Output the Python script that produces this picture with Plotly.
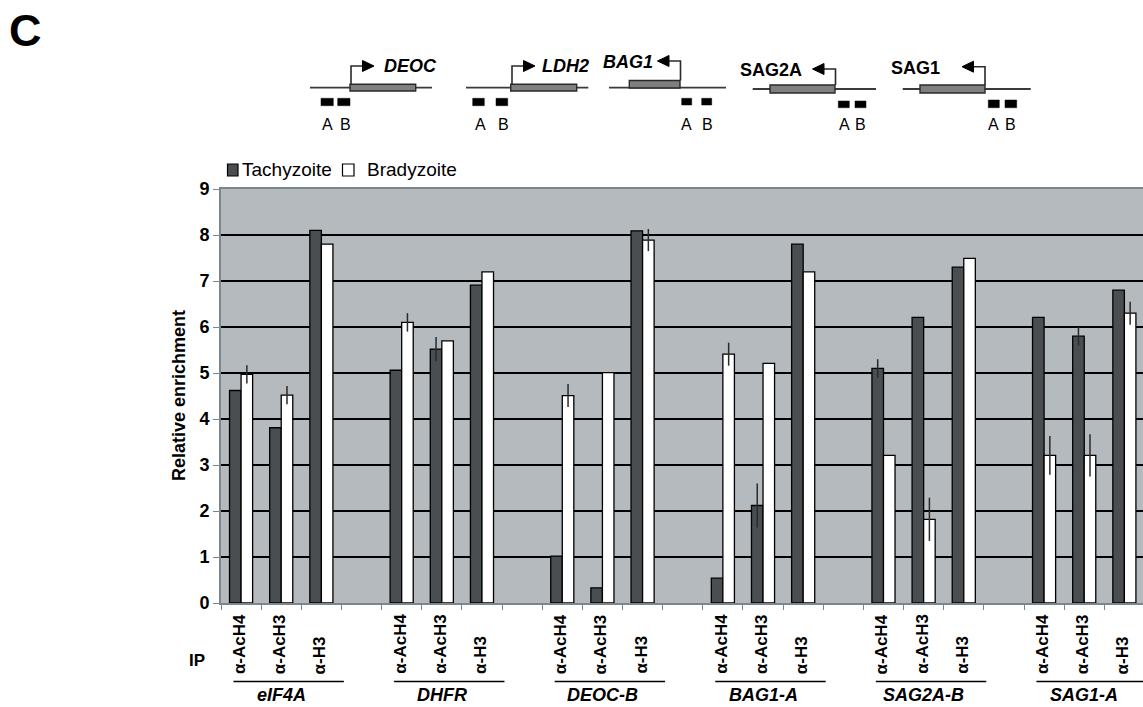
import plotly.graph_objects as go

# ---------------- data ----------------
groups = ["eIF4A", "DHFR", "DEOC-B", "BAG1-A", "SAG2A-B", "SAG1-A"]
antibodies = ["α-AcH4", "α-AcH3", "α-H3"]
tachyzoite = [4.62, 3.81, 8.10, 5.06, 5.52, 6.91, 1.02, 0.33, 8.09,
              0.54, 2.12, 7.80, 5.10, 6.21, 7.30, 6.21, 5.80, 6.80]
bradyzoite = [4.97, 4.52, 7.80, 6.10, 5.70, 7.20, 4.51, 5.01, 7.89,
              5.41, 5.21, 7.20, 3.21, 1.82, 7.49, 3.21, 3.21, 6.30]
tachy_err = [0, 0, 0, 0, 0.26, 0, 0, 0, 0,
             0, 0.48, 0, 0.20, 0, 0, 0, 0.20, 0]
brady_err = [0.20, 0.20, 0, 0.20, 0, 0, 0.25, 0, 0.24,
             0.25, 0, 0, 0, 0.47, 0, 0.42, 0.46, 0.25]
y_ticks = [0, 1, 2, 3, 4, 5, 6, 7, 8, 9]
series_names = ["Tachyzoite", "Bradyzoite"]

# ---------------- geometry helpers ----------------
# The page body margin is removed (post_script), so figure pixels = window pixels.
W, H = 1143, 707
def px(x):
    return x / W
def py(y):
    return 1 - y / H

slots = [g * 4 + a for g in range(len(groups)) for a in range(len(antibodies))]

DARK = "#4a4e51"
PLOTBG = "#b4babe"
AXGREY = "#7b878f"
FONT = "Arial, Liberation Sans, sans-serif"

fig = go.Figure()
fig.add_trace(go.Bar(
    x=slots, y=tachyzoite, name=series_names[0],
    marker=dict(color=DARK, line=dict(color="black", width=1.3)),
    error_y=dict(type="data", array=tachy_err, visible=True,
                 color="#2a2a2a", thickness=1.5, width=0),
))
fig.add_trace(go.Bar(
    x=slots, y=bradyzoite, name=series_names[1],
    marker=dict(color="white", line=dict(color="black", width=1.3)),
    error_y=dict(type="data", array=brady_err, visible=True,
                 color="#2a2a2a", thickness=1.5, width=0),
))

shapes = []
annotations = []

# ---- x tick labels (antibodies), bottom-aligned ----
for g, grp in enumerate(groups):
    for a, ab in enumerate(antibodies):
        annotations.append(dict(
            x=g * 4 + a, xref="x", y=py(676), yref="paper",
            text=ab, textangle=-90, xanchor="center", yanchor="bottom",
            xshift=-2, showarrow=False,
            font=dict(family=FONT, size=17, color="black", weight="bold"),
        ))
    # underline
    shapes.append(dict(type="line", xref="x", yref="paper",
                       x0=g * 4 - 0.19, x1=g * 4 + 2.56,
                       y0=py(681.5), y1=py(681.5),
                       line=dict(color="black", width=1.5)))
    annotations.append(dict(
        x=g * 4 + 1, xref="x", y=py(695), yref="paper",
        text=grp, xanchor="center", yanchor="middle", showarrow=False,
        font=dict(family=FONT, size=18, color="black", weight="bold",
                  style="italic"),
    ))

annotations.append(dict(x=px(197), y=py(660), xref="paper", yref="paper",
                        text="IP", showarrow=False, xanchor="center", yanchor="middle",
                        font=dict(family=FONT, size=17, color="black", weight="bold")))

# ---- y axis title ----
annotations.append(dict(x=px(179), y=py(396), xref="paper", yref="paper",
                        text="Relative enrichment", textangle=-90, showarrow=False,
                        xanchor="center", yanchor="middle",
                        font=dict(family=FONT, size=18, color="black", weight="bold")))

# ---- panel letter ----
annotations.append(dict(x=px(25), y=py(31), xref="paper", yref="paper",
                        text="C", showarrow=False, xanchor="center", yanchor="middle",
                        font=dict(family=FONT, size=45, color="black", weight="bold")))

# ---- legend (manual) ----
def rect(x0, y0, x1, y1, fill, lc="black", lw=1.2):
    return dict(type="rect", xref="paper", yref="paper",
                x0=px(x0), x1=px(x1), y0=py(y1), y1=py(y0),
                fillcolor=fill, line=dict(color=lc, width=lw))

shapes.append(rect(227.5, 164, 238, 176, DARK))
shapes.append(rect(342.5, 164, 354, 176, "white"))
annotations.append(dict(x=px(240), y=py(170), xref="paper", yref="paper",
                        text=series_names[0], showarrow=False, xanchor="left",
                        yanchor="middle", font=dict(family=FONT, size=19, color="black")))
annotations.append(dict(x=px(365), y=py(170), xref="paper", yref="paper",
                        text=series_names[1], showarrow=False, xanchor="left",
                        yanchor="middle", font=dict(family=FONT, size=19, color="black")))

# ---- gene diagrams ----
def hline(x0, x1, y, color="#3a3a3a", w=1.8):
    return dict(type="line", xref="paper", yref="paper",
                x0=px(x0), x1=px(x1), y0=py(y), y1=py(y),
                line=dict(color=color, width=w))

def path(points, fill=None, color="#2a2a2a", w=1.6, closed=False):
    d = "M " + " L ".join(f"{px(x):.5f},{py(y):.5f}" for x, y in points)
    if closed:
        d += " Z"
    s = dict(type="path", xref="paper", yref="paper", path=d,
             line=dict(color=color, width=w))
    if fill:
        s["fillcolor"] = fill
    return s

diagrams = [
    dict(name="DEOC", italic=True, line=(310, 432, 87.7), box=(350, 84.3, 415.7, 91),
         px_=351, ay=66, dir=1, tx=(382, "left", 66),
         A=(321, 333.3), B=(337.7, 350), aby=(98.3, 105.7), lab=(327.3, 345)),
    dict(name="LDH2", italic=True, line=(466, 588.3, 87.7), box=(510.7, 84.3, 576.7, 91),
         px_=512, ay=66, dir=1, tx=(540, "left", 66),
         A=(472.7, 484.3), B=(496, 507.7), aby=(98.3, 105.7), lab=(480, 503.5)),
    dict(name="BAG1", italic=True, line=(609, 726, 87.7), box=(629.3, 80.5, 680, 88),
         px_=680.5, ay=61, dir=-1, tx=(655, "right", 62),
         A=(681.7, 691.7), B=(701.7, 711.7), aby=(98.3, 105), lab=(686.7, 707)),
    dict(name="SAG2A", italic=False, line=(752.7, 876, 89), box=(770, 85, 835, 93),
         px_=835.5, ay=69, dir=-1, tx=(738, "left", 70),
         A=(838.3, 849.3), B=(855, 866), aby=(101, 107.7), lab=(844, 860.7)),
    dict(name="SAG1", italic=False, line=(902.7, 1030.7, 89), box=(920, 85, 985, 93),
         px_=985, ay=66.7, dir=-1, tx=(889, "left", 67.5),
         A=(988.3, 999.3), B=(1005, 1016.7), aby=(100, 107.7), lab=(993.3, 1011)),
]

for d in diagrams:
    lx0, lx1, ly = d["line"]
    shapes.append(hline(lx0, lx1, ly))
    bx0, by0, bx1, by1 = d["box"]
    shapes.append(rect(bx0, by0, bx1, by1, "#7d7f80", lc="#2a2a2a", lw=1.4))
    p = d["px_"]
    ay = d["ay"]
    seg = 11.5
    base = p + d["dir"] * seg
    tip = base + d["dir"] * 11.5
    shapes.append(path([(p, by0), (p, ay), (base, ay)], w=1.6))
    shapes.append(path([(base, ay - 5.5), (tip, ay), (base, ay + 5.5)],
                       fill="black", color="black", w=1, closed=True))
    tx, tanchor, tyy = d["tx"]
    annotations.append(dict(x=px(tx), y=py(tyy), xref="paper", yref="paper",
                            text=d["name"], showarrow=False, xanchor=tanchor, yanchor="middle",
                            font=dict(family=FONT, size=18, color="black", weight="bold",
                                      style="italic" if d["italic"] else "normal")))
    y0, y1 = d["aby"]
    shapes.append(rect(d["A"][0], y0, d["A"][1], y1, "black", lw=0.5))
    shapes.append(rect(d["B"][0], y0, d["B"][1], y1, "black", lw=0.5))
    for lbl, lx in zip(["A", "B"], d["lab"]):
        annotations.append(dict(x=px(lx), y=py(124), xref="paper", yref="paper",
                                text=lbl, showarrow=False, xanchor="center", yanchor="middle",
                                font=dict(family=FONT, size=16, color="black")))

# plot area: x 221 -> right edge (slot width ~40.15 px), y 603 (value 0) to 189 (value 9)
x_end = -0.5 + (W - 221) / 40.15

fig.update_layout(
    width=W, height=H,
    margin=dict(l=0, r=0, t=0, b=0, autoexpand=False),
    paper_bgcolor="white",
    plot_bgcolor=PLOTBG,
    barmode="group", bargap=0.425, bargroupgap=0,
    showlegend=False,
    font=dict(family=FONT, color="black"),
    xaxis=dict(domain=[px(221), 1], range=[-0.5, x_end],
               tickvals=[i - 0.5 for i in range(24)], showticklabels=False,
               ticks="outside", ticklen=5, tickwidth=1.3, tickcolor=AXGREY,
               showline=True, linecolor=AXGREY, linewidth=2, mirror=True,
               showgrid=False, zeroline=False, automargin=False, fixedrange=True),
    yaxis=dict(domain=[py(603), py(189)], range=[0, 9], tickvals=y_ticks,
               ticks="outside", ticklen=6, tickwidth=1.3, tickcolor=AXGREY,
               showline=True, linecolor=AXGREY, linewidth=2, mirror=True,
               showgrid=True, gridcolor="black", gridwidth=1.8,
               zeroline=False, automargin=False, fixedrange=True,
               tickfont=dict(family=FONT, size=18, color="black", weight="bold")),
    shapes=shapes,
    annotations=annotations,
)

fig.write_html(
    "out.html",
    config={"displayModeBar": False},
    post_script="document.body.style.margin='0';document.body.style.overflow='hidden';",
)
